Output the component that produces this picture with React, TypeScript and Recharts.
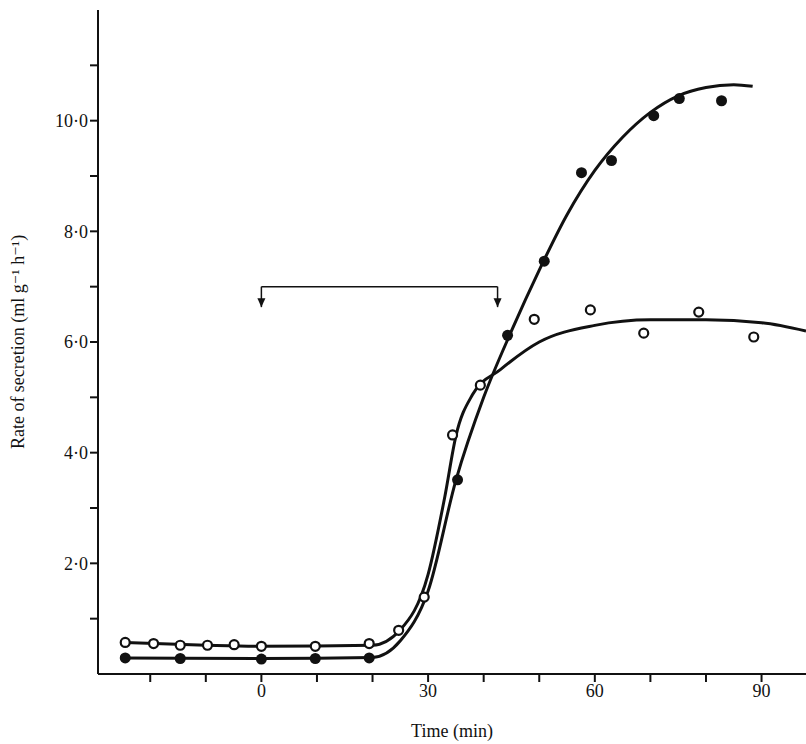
import { ComposedChart, Line, Scatter, XAxis, YAxis, ReferenceLine, ReferenceDot } from 'recharts'

const xTicks = [-20, -10, 0, 10, 20, 30, 40, 50, 60, 70, 80, 90]
const xLabels = [0, 30, 60, 90]
const yTicks = [1, 2, 3, 4, 5, 6, 7, 8, 9, 10, 11]
const yLabels = [2, 4, 6, 8, 10]

const filledX = [-24.5, -14.6, 0, 9.7, 19.4, 35.3, 44.3, 50.9, 57.6, 63, 70.6, 75.2, 82.8]
const filledY = [0.29, 0.28, 0.27, 0.28, 0.29, 3.51, 6.12, 7.46, 9.06, 9.28, 10.09, 10.4, 10.36]
const openX = [-24.5, -19.4, -14.6, -9.7, -4.9, 0, 9.7, 19.4, 24.7, 29.3, 34.4, 39.4, 49.1, 59.2, 68.8, 78.7, 88.6]
const openY = [0.57, 0.55, 0.52, 0.52, 0.53, 0.5, 0.5, 0.55, 0.79, 1.39, 4.32, 5.22, 6.41, 6.58, 6.16, 6.54, 6.09]

const filledCurveX = [-24.5, 0, 20, 25, 30, 35, 40, 45, 50, 55, 60, 65, 70, 75, 80, 85, 88.4]
const filledCurveY = [0.29, 0.28, 0.3, 0.6, 1.5, 3.5, 5.0, 6.2, 7.3, 8.3, 9.1, 9.7, 10.15, 10.45, 10.6, 10.65, 10.62]
const openCurveX = [-24.5, -10, 0, 20, 25, 30, 33, 35, 38, 43, 50, 60, 70, 80, 90, 98]
const openCurveY = [0.57, 0.52, 0.5, 0.52, 0.8, 1.8, 3.2, 4.3, 5.05, 5.5, 6.0, 6.3, 6.4, 6.4, 6.35, 6.2]

const bracketX = [0, 42.5]
const bracketY = 7.0
const arrowY = 6.63

const zip = (xs: number[], ys: number[]) => xs.map((x, i) => ({ x, y: ys[i] }))

const FilledDot = (p: any) => <circle cx={p.cx} cy={p.cy} r={5.5} fill="#111" />
const OpenDot = (p: any) => <circle cx={p.cx} cy={p.cy} r={4.5} fill="#fff" stroke="#111" strokeWidth={2.2} />
const ArrowHead = (p: any) => (
  <path d={`M${p.cx - 4},${p.cy - 9} L${p.cx + 4},${p.cy - 9} L${p.cx},${p.cy} Z`} fill="#111" />
)

export default function App() {
  const font = { fontFamily: 'Liberation Serif, DejaVu Serif, serif', fontSize: 18, fill: '#111' }
  return (
    <div style={{ position: 'absolute', left: 0, top: 0, background: '#fff' }}>
      <ComposedChart width={806} height={744} margin={{ top: 10, right: 0, bottom: 40, left: 0 }}>
        <XAxis
          type="number" dataKey="x" domain={[-29.4, 98]} ticks={xTicks} allowDataOverflow
          tick={{ ...font }} tickFormatter={v => (xLabels.includes(v) ? String(v) : '')}
          tickSize={8} stroke="#111" strokeWidth={2}
          label={{ value: 'Time (min)', position: 'insideBottom', offset: -33, style: { ...font } }}
        />
        <YAxis
          type="number" dataKey="y" domain={[0, 12]} ticks={yTicks} width={98} allowDataOverflow
          tick={{ ...font }} tickFormatter={v => (yLabels.includes(v) ? v.toFixed(1).replace('.', '·') : '')}
          tickSize={8} stroke="#111" strokeWidth={2}
          label={{ value: 'Rate of secretion (ml g⁻¹ h⁻¹)', angle: -90, position: 'insideLeft', offset: 18, style: { ...font, textAnchor: 'middle' } }}
        />
        <Line data={zip(filledCurveX, filledCurveY)} dataKey="y" type="monotone" stroke="#111" strokeWidth={3} dot={false} isAnimationActive={false} />
        <Line data={zip(openCurveX, openCurveY)} dataKey="y" type="monotone" stroke="#111" strokeWidth={3} dot={false} isAnimationActive={false} />
        <Scatter data={zip(filledX, filledY)} dataKey="y" shape={FilledDot} isAnimationActive={false} />
        <Scatter data={zip(openX, openY)} dataKey="y" shape={OpenDot} isAnimationActive={false} />
        <ReferenceLine segment={[{ x: bracketX[0], y: bracketY }, { x: bracketX[1], y: bracketY }]} stroke="#111" strokeWidth={1.5} />
        {bracketX.map(x => (
          <ReferenceLine key={x} segment={[{ x, y: bracketY }, { x, y: arrowY }]} stroke="#111" strokeWidth={1.5} />
        ))}
        {bracketX.map(x => (
          <ReferenceDot key={'a' + x} x={x} y={arrowY} shape={ArrowHead} />
        ))}
      </ComposedChart>
    </div>
  )
}
